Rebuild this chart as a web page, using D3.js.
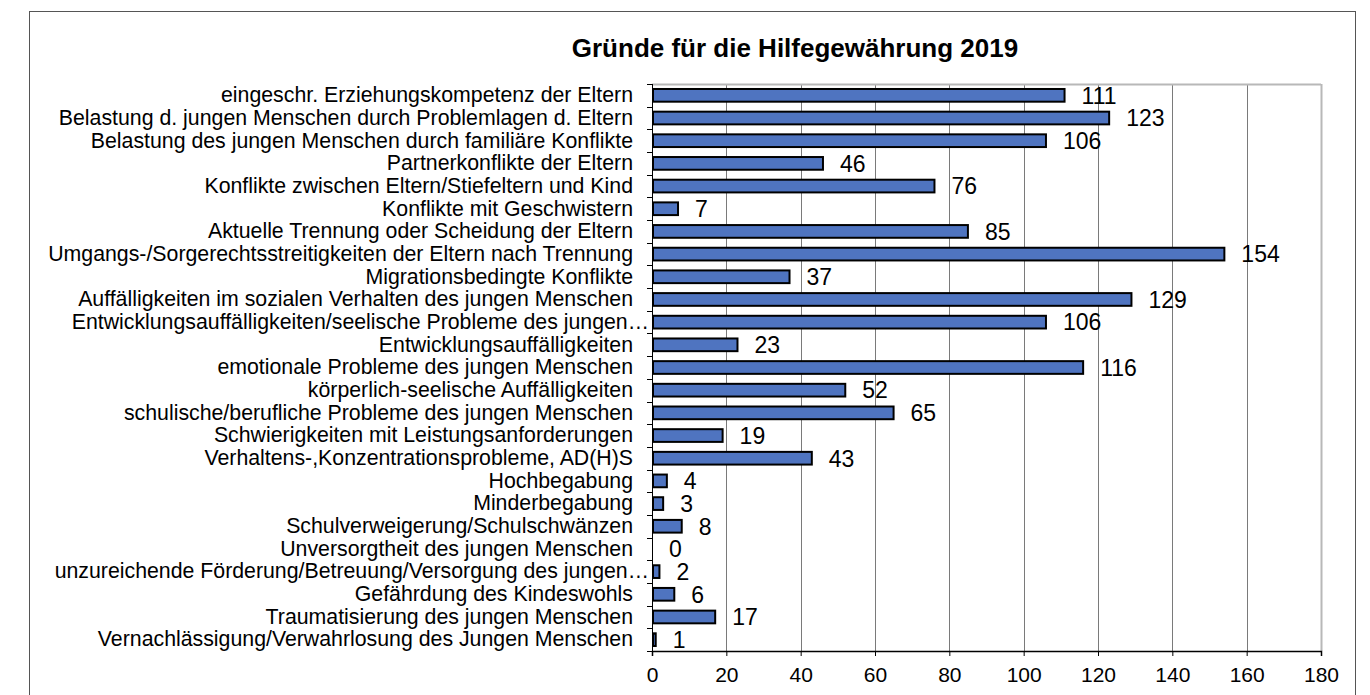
<!DOCTYPE html>
<html>
<head>
<meta charset="utf-8">
<script src="https://cdn.jsdelivr.net/npm/d3@7"></script>
<style>
    body { margin: 0; background: #fff; }
    text { font-family: "Liberation Sans", Arial, sans-serif; fill: #000; }
</style>
</head>
<body>
<div id="chart_gruende"></div>
<script>
var categories = [
    "eingeschr. Erziehungskompetenz der Eltern",
    "Belastung d. jungen Menschen durch Problemlagen d. Eltern",
    "Belastung des jungen Menschen durch familiäre Konflikte",
    "Partnerkonflikte der Eltern",
    "Konflikte zwischen Eltern/Stiefeltern und Kind",
    "Konflikte mit Geschwistern",
    "Aktuelle Trennung oder Scheidung der Eltern",
    "Umgangs-/Sorgerechtsstreitigkeiten der Eltern nach Trennung",
    "Migrationsbedingte Konflikte",
    "Auffälligkeiten im sozialen Verhalten des jungen Menschen",
    "Entwicklungsauffälligkeiten/seelische Probleme des jungen…",
    "Entwicklungsauffälligkeiten ",
    "emotionale Probleme des jungen Menschen",
    "körperlich-seelische Auffälligkeiten",
    "schulische/berufliche Probleme des jungen Menschen",
    "Schwierigkeiten mit Leistungsanforderungen",
    "Verhaltens-,Konzentrationsprobleme, AD(H)S",
    "Hochbegabung",
    "Minderbegabung",
    "Schulverweigerung/Schulschwänzen",
    "Unversorgtheit des jungen Menschen",
    "unzureichende Förderung/Betreuung/Versorgung des jungen…",
    "Gefährdung des Kindeswohls",
    "Traumatisierung des jungen Menschen",
    "Vernachlässigung/Verwahrlosung des Jungen Menschen"
];
var values = [111, 123, 106, 46, 76, 7, 85, 154, 37, 129, 106, 23, 116, 52, 65, 19, 43, 4, 3, 8, 0, 2, 6, 17, 1];
var xTicks = [0, 20, 40, 60, 80, 100, 120, 140, 160, 180];
var title = "Gründe für die Hilfegewährung 2019";

var data = categories.map(function (c, i) {
    return {name: c, value: values[i]};
});

var width = 1370, height = 695,
    margin = {top: 84, right: 49, bottom: 44, left: 652},
    plotW = width - margin.left - margin.right,
    plotH = height - margin.top - margin.bottom;

var svg = d3.select("#chart_gruende").append("svg")
    .attr("width", width)
    .attr("height", height);

// outer frame (runs past the bottom edge)
svg.append("rect")
    .attr("x", 29.5)
    .attr("y", 11.5)
    .attr("width", 1326)
    .attr("height", 720)
    .style("fill", "none")
    .style("stroke", "#555")
    .style("stroke-width", 1);

svg.append("text")
    .attr("x", 795)
    .attr("y", 57)
    .style("text-anchor", "middle")
    .style("font-size", "26px")
    .style("font-weight", "bold")
    .text(title);

var g = svg.append("g")
    .attr("transform", "translate(" + margin.left + "," + margin.top + ")");

var x = d3.scaleLinear()
    .domain([0, 180])
    .range([0, plotW]);

var y = d3.scaleBand()
    .domain(categories)
    .range([0, plotH])
    .paddingInner(0.44)
    .paddingOuter(0.22);

// vertical gridlines
g.selectAll(".grid")
    .data(xTicks.slice(1))
    .enter().append("line")
    .attr("class", "grid")
    .attr("x1", function (d) { return Math.round(x(d)) + 0.5; })
    .attr("x2", function (d) { return Math.round(x(d)) + 0.5; })
    .attr("y1", 0)
    .attr("y2", plotH)
    .style("stroke", function (d) { return d === 180 ? "#b8b8b8" : "#7a7a7a"; })
    .style("stroke-width", function (d) { return d === 180 ? 2 : 1; });

// top border
g.append("line")
    .attr("x1", 0)
    .attr("x2", plotW)
    .attr("y1", 0.5)
    .attr("y2", 0.5)
    .style("stroke", "#b8b8b8")
    .style("stroke-width", 2);

// bars
g.selectAll(".bar")
    .data(data)
    .enter().append("rect")
    .attr("class", "bar")
    .attr("x", 1)
    .attr("y", function (d) { return y(d.name); })
    .attr("width", function (d) { return Math.max(0, x(d.value) - 1); })
    .attr("height", y.bandwidth())
    .style("fill", "#4f74c0")
    .style("stroke", "#000")
    .style("stroke-width", function (d) { return d.value > 0 ? 2 : 0; });

// value labels
g.selectAll(".val")
    .data(data)
    .enter().append("text")
    .attr("class", "val")
    .attr("x", function (d) { return x(d.value) + 17; })
    .attr("y", function (d) { return y(d.name) + y.bandwidth() / 2; })
    .attr("dy", "0.36em")
    .style("font-size", "23px")
    .text(function (d) { return d.value; });

// y axis
var yAxis = d3.axisLeft(y).tickSize(0).tickPadding(19);
var ya = g.append("g").call(yAxis);
ya.select(".domain").remove();
ya.selectAll("text")
    .style("font-size", "21.3px")
    .style("font-family", "'Liberation Sans', Arial, sans-serif")
    .attr("dx", function (d) { return d.slice(-1) === "…" ? 16 : 0; }); // truncated labels overhang

g.append("line")
    .attr("x1", 0.5)
    .attr("x2", 0.5)
    .attr("y1", 0)
    .attr("y2", plotH + 5)
    .style("stroke", "#000");

// category boundary ticks
var step = plotH / categories.length;
g.selectAll(".ytick")
    .data(d3.range(categories.length + 1))
    .enter().append("line")
    .attr("class", "ytick")
    .attr("x1", -5)
    .attr("x2", 0)
    .attr("y1", function (i) { return Math.round(i * step) + 0.5; })
    .attr("y2", function (i) { return Math.round(i * step) + 0.5; })
    .style("stroke", "#000");

// x axis
var xAxis = d3.axisBottom(x).tickValues(xTicks).tickSize(5).tickPadding(11);
var xa = g.append("g")
    .attr("transform", "translate(0," + plotH + ")")
    .call(xAxis);
xa.select(".domain").style("stroke", "#000").style("stroke-width", 1.5);
xa.selectAll("text")
    .style("font-size", "21px")
    .style("font-family", "'Liberation Sans', Arial, sans-serif");
</script>
</body>
</html>
